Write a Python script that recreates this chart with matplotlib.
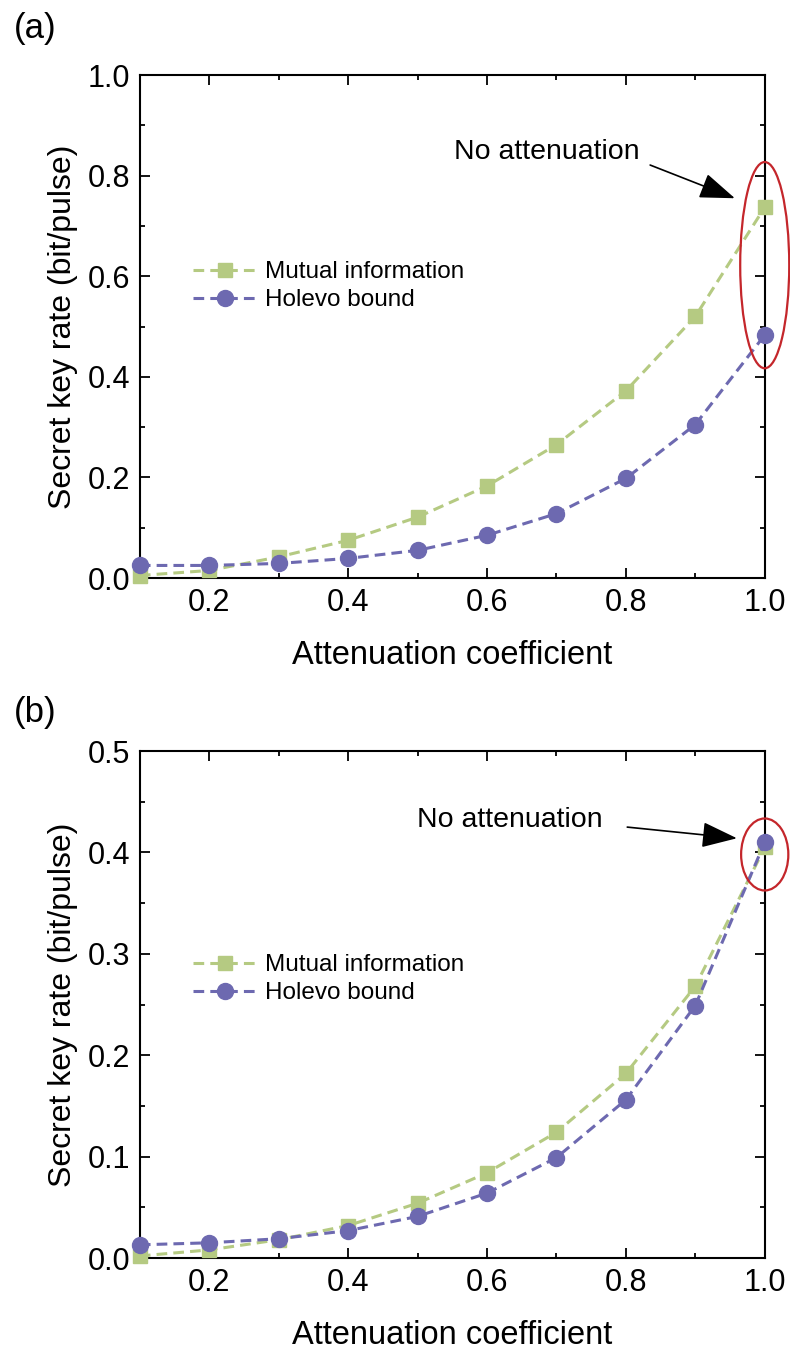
import numpy as np
import matplotlib.pyplot as plt
from matplotlib.patches import Ellipse
from matplotlib.ticker import MultipleLocator

plt.rcParams['font.family'] = ['Liberation Sans', 'DejaVu Sans']

# data
atten = [0.1, 0.2, 0.3, 0.4, 0.5, 0.6, 0.7, 0.8, 0.9, 1.0]
mutual_a = [0.005, 0.015, 0.042, 0.075, 0.121, 0.183, 0.265, 0.372, 0.52, 0.737]
holevo_a = [0.025, 0.025, 0.029, 0.039, 0.055, 0.085, 0.128, 0.198, 0.305, 0.483]
mutual_b = [0.002, 0.008, 0.018, 0.032, 0.054, 0.084, 0.124, 0.182, 0.268, 0.405]
holevo_b = [0.013, 0.015, 0.019, 0.027, 0.041, 0.064, 0.099, 0.156, 0.249, 0.41]

green = '#b5ca82'
purple = '#6d69b0'
red = '#c4262b'

fig = plt.figure(figsize=(7.9, 13.54), dpi=100)
ax1 = fig.add_axes([0.177, 0.5731, 0.791, 0.3715])
ax2 = fig.add_axes([0.177, 0.0709, 0.791, 0.3744])

def setup(ax, mut, hol, ymax, ymaj, leg_y, ell, txt, arr_from, arr_to):
    ax.plot(atten, mut, ls=(0, (3.5, 2)), lw=2.2, color=green, marker='s',
            ms=10.5, mec=green, mfc=green, clip_on=False, zorder=3,
            label='Mutual information')
    ax.plot(atten, hol, ls=(0, (3.5, 2)), lw=2.2, color=purple, marker='o',
            ms=11.5, mec=purple, mfc=purple, clip_on=False, zorder=4,
            label='Holevo bound')
    ax.set_xlim(0.1, 1.0)
    ax.set_ylim(0, ymax)
    ax.xaxis.set_major_locator(MultipleLocator(0.2))
    ax.xaxis.set_minor_locator(MultipleLocator(0.1))
    ax.yaxis.set_major_locator(MultipleLocator(ymaj))
    ax.yaxis.set_minor_locator(MultipleLocator(ymaj / 2))
    ax.tick_params(which='both', direction='in', top=True, right=True,
                   width=1.3, labelsize=22, pad=7)
    ax.tick_params(which='major', length=7)
    ax.tick_params(which='minor', length=3.8)
    for s in ax.spines.values():
        s.set_linewidth(1.5)
    ax.set_xlabel('Attenuation coefficient', fontsize=23.5, labelpad=16)
    ax.set_ylabel('Secret key rate (bit/pulse)', fontsize=23, labelpad=7)
    ax.legend(loc='center left', bbox_to_anchor=(0.05, leg_y), frameon=False,
              fontsize=17.5, handlelength=2.6, handletextpad=0.35,
              labelspacing=0.25)
    e = Ellipse(ell[:2], ell[2], ell[3], fill=False, ec=red, lw=1.6,
                clip_on=False, zorder=5)
    ax.add_patch(e)
    ax.text(txt[0], txt[1], 'No attenuation', fontsize=20.5, ha='center',
            va='center')
    ax.annotate('', xy=arr_to, xytext=arr_from,
                arrowprops=dict(arrowstyle='-|>,head_length=2.2,head_width=0.8',
                                color='black', lw=1.2, shrinkA=0, shrinkB=0))

setup(ax1, mutual_a, holevo_a, 1.0, 0.2, 0.58,
      (1.0, 0.622, 0.0706, 0.41), (0.686, 0.847), (0.835, 0.821), (0.957, 0.755))
setup(ax2, mutual_b, holevo_b, 0.5, 0.1, 0.55,
      (1.0, 0.398, 0.068, 0.071), (0.633, 0.432), (0.802, 0.425), (0.96, 0.414))

fig.text(0.017, 0.979, '(a)', fontsize=25, va='center', ha='left')
fig.text(0.017, 0.474, '(b)', fontsize=25, va='center', ha='left')

fig.savefig('out.png', dpi=100)
